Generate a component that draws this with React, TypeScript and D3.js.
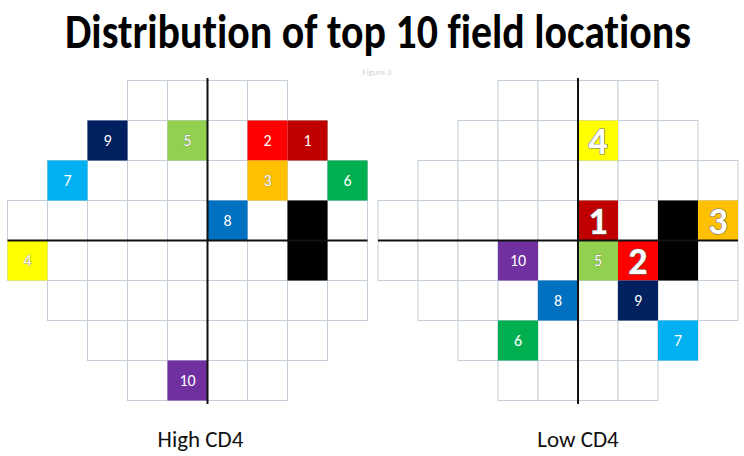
import React, { useEffect, useRef, useState } from "react";
import * as d3 from "d3";

// field layout: first and last column used in each row (24-2 style grid)
const rowFirstCol = [3, 2, 1, 0, 0, 1, 2, 3];
const rowLastCol = [6, 7, 8, 8, 8, 8, 7, 6];

const ranks = [1, 2, 3, 4, 5, 6, 7, 8, 9, 10];
const rankColors = [
  "#C00000",
  "#FF0000",
  "#FFC000",
  "#FFFF00",
  "#92D050",
  "#00B050",
  "#00B0F0",
  "#0070C0",
  "#002060",
  "#7030A0",
];

// top 10 locations, indexed by rank
const highCD4Row = [1, 1, 2, 4, 1, 2, 2, 3, 1, 7];
const highCD4Col = [7, 6, 6, 0, 4, 8, 1, 5, 2, 4];
const lowCD4Row = [3, 4, 3, 1, 4, 6, 6, 5, 5, 4];
const lowCD4Col = [5, 6, 8, 5, 5, 3, 7, 4, 6, 3];

// blind spot
const blindRows = [3, 4];
const blindCol = 7;

const panelTitles = ["High CD4", "Low CD4"];

const FONT = "Carlito, Calibri, Lato, 'Open Sans', sans-serif";

type Panel = {
  title: string;
  rows: number[];
  cols: number[];
  bigRanks: number[];
  x0: number;
  labelShift: number;
};

const panels: Panel[] = [
  { title: panelTitles[0], rows: highCD4Row, cols: highCD4Col, bigRanks: [], x0: 7.5, labelShift: -7 },
  { title: panelTitles[1], rows: lowCD4Row, cols: lowCD4Col, bigRanks: [1, 2, 3, 4], x0: 378, labelShift: 0 },
];

const lightFill = new Set(["#FFC000", "#FFFF00", "#92D050"]);

function Field({ p }: { p: Panel }) {
  const x = d3.scaleBand<number>().domain(d3.range(9)).range([p.x0, p.x0 + 360]);
  const y = d3.scaleBand<number>().domain(d3.range(8)).range([80.5, 400.5]);
  const bw = x.bandwidth();
  const bh = y.bandwidth();

  const cells: { r: number; c: number }[] = [];
  rowFirstCol.forEach((first, r) => {
    d3.range(first, rowLastCol[r] + 1).forEach((c) => cells.push({ r, c }));
  });

  const axisX = x(5)!;
  const axisY = y(4)!;

  return (
    <g>
      {cells.map((d, i) => (
        <rect
          key={i}
          x={x(d.c)}
          y={y(d.r)}
          width={bw}
          height={bh}
          fill="#fff"
          stroke="#c5cfd9"
          strokeWidth={1}
        />
      ))}
      {ranks.map((rk, i) => (
        <rect
          key={"f" + rk}
          x={x(p.cols[i])}
          y={y(p.rows[i])}
          width={bw}
          height={bh}
          fill={rankColors[i]}
        />
      ))}
      <rect
        x={x(blindCol)}
        y={y(blindRows[0])}
        width={bw}
        height={bh * blindRows.length}
        fill="#000"
      />
      <line x1={axisX} x2={axisX} y1={78} y2={404} stroke="#111" strokeWidth={2} />
      <line x1={p.x0} x2={p.x0 + 360} y1={axisY} y2={axisY} stroke="#111" strokeWidth={2} />
      {ranks.map((rk, i) => {
        const big = p.bigRanks.includes(rk);
        const outlined = big || lightFill.has(rankColors[i]);
        return (
          <text
            key={"t" + rk}
            x={x(p.cols[i])! + bw / 2}
            y={y(p.rows[i])! + bh / 2 + (big ? 13 : 5.5)}
            textAnchor="middle"
            fontFamily={FONT}
            fontSize={big ? 38 : 16}
            fontWeight={big ? 700 : 400}
            fill="#fff"
            stroke={outlined ? "#6f6f6f" : "none"}
            strokeWidth={big ? 1.2 : 0.6}
            paintOrder="stroke"
          >
            {rk}
          </text>
        );
      })}
      <text
        x={axisX + p.labelShift}
        y={447}
        textAnchor="middle"
        fontFamily={FONT}
        fontSize={23}
        fill="#111"
      >
        {p.title}
      </text>
    </g>
  );
}

export default function App() {
  const titleRef = useRef<SVGTextElement>(null);
  const [sx, setSx] = useState(0.8);

  // squeeze the title to the width it has in the figure
  useEffect(() => {
    if (!titleRef.current) return;
    const len = titleRef.current.getComputedTextLength();
    if (len > 0) setSx(626 / len);
  }, []);

  return (
    <svg
      width={744}
      height={456}
      style={{ position: "absolute", left: 0, top: 0, background: "#fff" }}
    >
      <rect width={744} height={456} fill="#fff" />
      <g transform={`translate(378,48) scale(${sx},1)`}>
        <text
          ref={titleRef}
          x={0}
          y={0}
          textAnchor="middle"
          fontFamily={FONT}
          fontSize={48}
          fontWeight={700}
          fill="#000"
          style={{ fontVariantLigatures: "none" }}
        >
          Distribution of top 10 field locations
        </text>
      </g>
      <text x={377} y={75} textAnchor="middle" fontFamily={FONT} fontSize={9} fill="#d4d4d4">
        Figure 3
      </text>
      {panels.map((p) => (
        <Field key={p.title} p={p} />
      ))}
    </svg>
  );
}
